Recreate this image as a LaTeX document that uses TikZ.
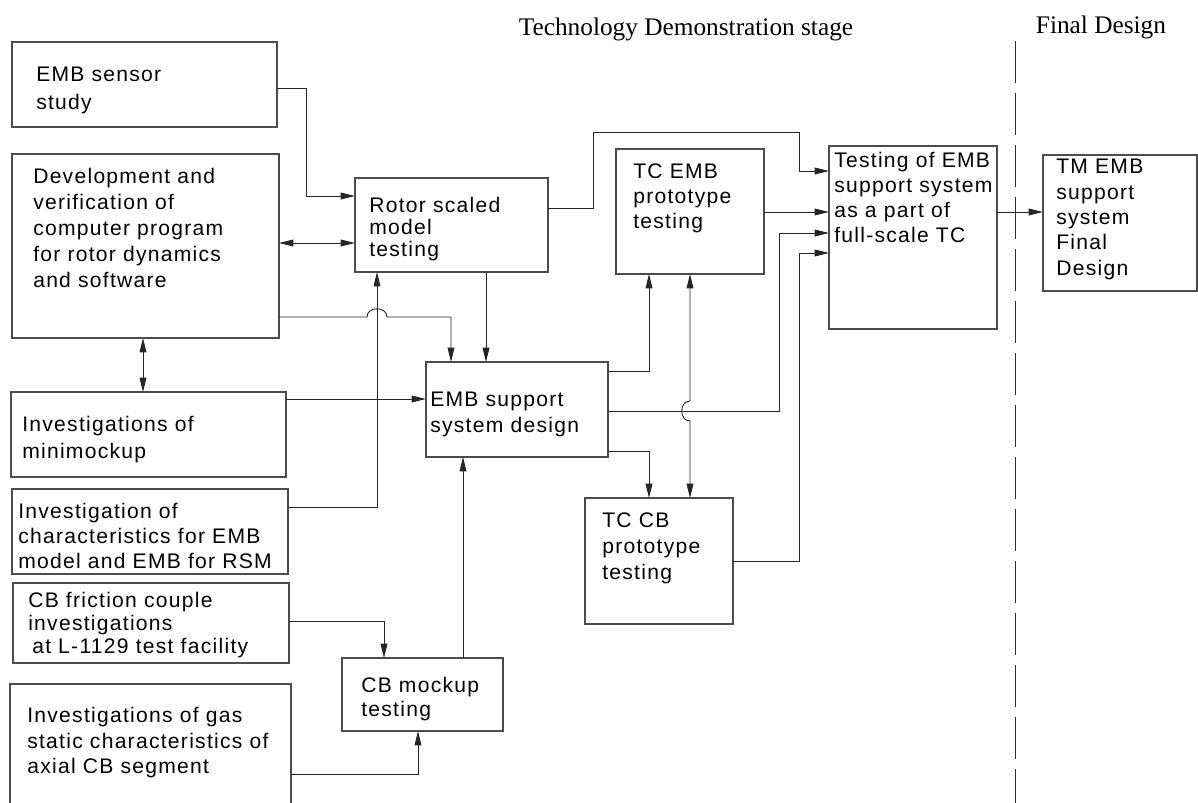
\documentclass[tikz,border=0pt]{standalone}
\usepackage{fontspec}
\setmainfont{Liberation Serif}
\newfontfamily\boxfont[LetterSpace=6]{Liberation Sans}
\usetikzlibrary{arrows.meta,calc}
\tikzset{
  blk/.style n args={2}{draw=black!70, line width=0.8pt, anchor=north west,
    inner sep=0pt, outer sep=0pt, minimum width=#1*0.025cm, minimum height=#2*0.025cm},
  txt/.style={anchor=north west, inner sep=0pt, align=left,
    font=\boxfont\fontsize{15pt}{#1}\selectfont},
  txt/.default=18.5pt,
  ttl/.style={anchor=base, inner sep=0pt, font=\fontsize{18pt}{20pt}\selectfont},
  tip/.tip={Triangle[length=3.6mm,width=1.7mm]},
  arr/.style={draw=black!85, line width=0.65pt, -tip},
  arr2/.style={draw=black!85, line width=0.65pt, tip-tip},
}
\begin{document}
\begin{tikzpicture}[x=0.025cm, y=-0.025cm]
  \useasboundingbox (0,0) rectangle (1198,803);
  \clip (0,0) rectangle (1198,803);
  % stage titles
  \node[ttl] (tds) at (686,35) {Technology Demonstration stage};
  \node[ttl] (fds) at (1101,33) {Final Design};
  \draw[black!80, line width=0.6pt, dash pattern=on 1.05cm off 0.25cm] (1015,41) -- (1015,803);
  % boxes
  \node[blk={265}{85}] (sens) at (12,42) {};
  \node[blk={267}{184}] (dev) at (12,154) {};
  \node[blk={193}{94}] (rotor) at (355,178) {};
  \node[blk={148}{125}] (tce) at (616,149) {};
  \node[blk={168}{183}] (tst) at (829,146) {};
  \node[blk={154}{136}] (tm) at (1043,155) {};
  \node[blk={182}{95}] (edes) at (426,362) {};
  \node[blk={275}{85}] (mini) at (11,392) {};
  \node[blk={276}{85}] (chr) at (12,489) {};
  \node[blk={276}{80}] (fric) at (13,583) {};
  \node[blk={281}{130}] (gas) at (10,684) {};
  \node[blk={161}{73}] (cbm) at (342,658) {};
  \node[blk={148}{126}] (tcb) at (585,498) {};
  % box texts
  \node[txt=19.9pt] (sens-t) at (36,67) {EMB sensor\\study};
  \node[txt=18.5pt] (dev-t) at (33,168) {Development and\\verification of\\computer program\\for rotor dynamics\\and software};
  \node[txt=15.6pt] (rotor-t) at (369,197) {Rotor scaled\\model\\testing};
  \node[txt=18.1pt] (tce-t) at (633,163) {TC EMB\\prototype\\testing};
  \node[txt=17.8pt] (tst-t) at (834,152) {Testing of EMB\\support system\\as a part of\\full-scale TC};
  \node[txt=18pt] (tm-t) at (1056,159) {TM EMB\\support\\system\\Final\\Design};
  \node[txt=18.5pt] (edes-t) at (430,392) {EMB support\\system design};
  \node[txt=19.2pt] (mini-t) at (22,416) {Investigations of\\minimockup};
  \node[txt=17.8pt] (chr-t) at (18,503) {Investigation of\\characteristics for EMB\\model and EMB for RSM};
  \node[txt=16.4pt] (fric-t) at (28,592) {CB friction couple\\investigations\\\hspace*{0.1cm}at L-1129 test facility};
  \node[txt=18.1pt] (gas-t) at (27,707) {Investigations of gas\\static characteristics of\\axial CB segment};
  \node[txt=17.1pt] (cbm-t) at (361,677) {CB mockup\\testing};
  \node[txt=18.8pt] (tcb-t) at (602,512) {TC CB\\prototype\\testing};
  % connectors
  \draw[arr] (sens.east |- 0,88) -- ++(29,0) |- (rotor.west |- 0,196);
  \draw[arr2] (dev.east |- 0,243) -- (rotor.west |- 0,243);
  \draw[arr] (dev.east |- 0,317) -- (367,317) .. controls +(0,-11) and +(0,-11) .. (387,317)
    -| ($(edes.north west)+(25,0)$);
  \draw[arr] (rotor.south -| 486,0) -- (edes.north -| 486,0);
  \draw[arr] (chr.east |- 0,507) -| (rotor.south -| 377,0);
  \draw[arr] (mini.east |- 0,399) -- (edes.west |- 0,399);
  \draw[arr2] (dev.south -| 143,0) -- (mini.north -| 143,0);
  \draw[arr] (cbm.north -| 463,0) -- (edes.south -| 463,0);
  \draw[arr] (fric.east |- 0,621) -| (cbm.north -| 384,0);
  \draw[arr] (gas.east |- 0,774) -| (cbm.south -| 418,0);
  \draw[arr] (rotor.east |- 0,208) -| (593,132) -| (799,171) -- (tst.west |- 0,171);
  \draw[arr] (tce.east |- 0,212) -- (tst.west |- 0,212);
  \draw[arr] (edes.east |- 0,371) -| (tce.south -| 649,0);
  \draw[arr2] (tce.south -| 690,0) -- (690,401) .. controls +(-11,0) and +(-11,0) .. (690,421)
    -- (tcb.north -| 690,0);
  \draw[arr] (edes.east |- 0,411) -| (779,233) -- (tst.west |- 0,233);
  \draw[arr] (edes.east |- 0,451) -| (tcb.north -| 649,0);
  \draw[arr] (tcb.east |- 0,561) -| (799,253) -- (tst.west |- 0,253);
  \draw[arr] (tst.east |- 0,212) -- (tm.west |- 0,212);
\end{tikzpicture}
\end{document}
